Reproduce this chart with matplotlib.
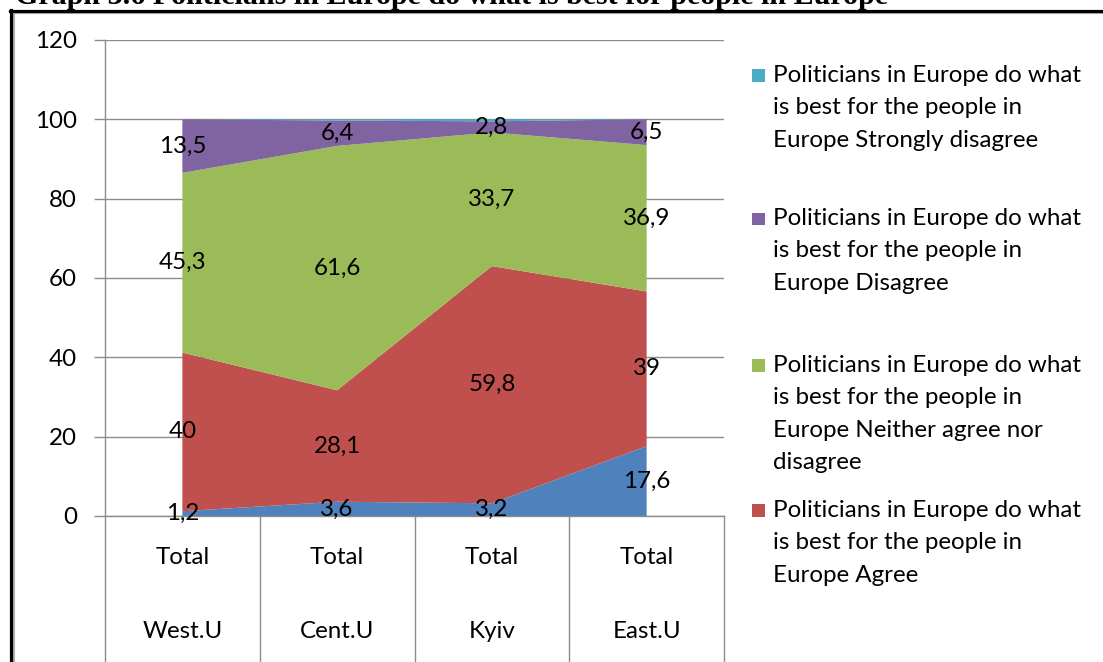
import matplotlib
matplotlib.use("Agg")
import matplotlib.pyplot as plt
from matplotlib.lines import Line2D
from matplotlib.patches import Rectangle
import numpy as np

# ---------------- data ----------------
regions = ["West.U", "Cent.U", "Kyiv", "East.U"]
level1 = ["Total", "Total", "Total", "Total"]
strongly_agree = [1.2, 3.6, 3.2, 17.6]
agree = [40, 28.1, 59.8, 39]
neither = [45.3, 61.6, 33.7, 36.9]
disagree = [13.5, 6.4, 2.8, 6.5]
strongly_disagree = [0.0, 0.3, 0.5, 0.0]
yticks = [0, 20, 40, 60, 80, 100, 120]
title = "Graph 3.6 Politicians in Europe do what is best for people in Europe"
legend_labels = [
    "Politicians in Europe do what\nis best for the people in\nEurope Strongly disagree",
    "Politicians in Europe do what\nis best for the people in\nEurope Disagree",
    "Politicians in Europe do what\nis best for the people in\nEurope Neither agree nor\ndisagree",
    "Politicians in Europe do what\nis best for the people in\nEurope Agree",
]

# ---------------- style ----------------
C_BLUE = "#4F81BD"
C_RED = "#C0504D"
C_GREEN = "#9BBB59"
C_PURPLE = "#8064A2"
C_CYAN = "#4BACC6"
GRID = "#8c8c8c"
FONT = "Lato"
FS = 17.4

W, H = 1103, 662
fig = plt.figure(figsize=(W / 100, H / 100), dpi=100)
fig.patch.set_facecolor("white")

def fx(px):
    return px / W

def fy(py):
    return 1 - py / H

ax_l, ax_r, ax_t, ax_b = 105, 724, 40, 516
ax = fig.add_axes([fx(ax_l), fy(ax_b), fx(ax_r - ax_l), (ax_b - ax_t) / H])

x = np.arange(len(regions))
series = [strongly_agree, agree, neither, disagree, strongly_disagree]
colors = [C_BLUE, C_RED, C_GREEN, C_PURPLE, C_CYAN]
ax.stackplot(x, *series, colors=colors, linewidth=0, zorder=2)

ax.set_xlim(-0.5, len(regions) - 0.5)
ax.set_ylim(0, 120)
ax.set_yticks(yticks)
ax.set_yticklabels([str(v) for v in yticks], fontfamily=FONT, fontsize=FS)
ax.yaxis.grid(True, color=GRID, linewidth=1.0, zorder=0)
ax.set_axisbelow(True)
ax.tick_params(axis="y", length=8, width=1.0, color=GRID, pad=12)
ax.set_xticks([])
for s in ["top", "right"]:
    ax.spines[s].set_visible(False)
ax.spines["left"].set_color(GRID)
ax.spines["left"].set_linewidth(1.0)
ax.spines["bottom"].set_color(GRID)
ax.spines["bottom"].set_linewidth(1.0)

# data labels (centred in each band)
cum = np.zeros(len(regions))
for vals in series[:4]:
    vals = np.array(vals, dtype=float)
    mids = cum + vals / 2
    for xi, v, m in zip(x, vals, mids):
        ax.text(xi, m, f"{v:g}".replace(".", ","), ha="center", va="center",
                fontfamily=FONT, fontsize=FS, color="black", zorder=5)
    cum += vals

# category table below the axis
axes_h = ax_b - ax_t
y_bottom = -(H - ax_b) / axes_h
tr = ax.get_xaxis_transform()
for b in np.arange(-0.5, len(regions), 1.0):
    ax.plot([b, b], [0, y_bottom], transform=tr, color=GRID, linewidth=1.0,
            clip_on=False, zorder=1)
for xi, l1, rg in zip(x, level1, regions):
    ax.text(xi, -(557 - ax_b) / axes_h, l1, transform=tr, ha="center", va="center",
            fontfamily=FONT, fontsize=FS)
    ax.text(xi, -(632 - ax_b) / axes_h, rg, transform=tr, ha="center", va="center",
            fontfamily=FONT, fontsize=FS)

# legend (manual, Excel-like: marker at first line)
leg_colors = [C_CYAN, C_PURPLE, C_GREEN, C_RED]
leg_baselines = [81.7, 225, 371.7, 516.7]
line_step = 32.5
for lab, col, b0 in zip(legend_labels, leg_colors, leg_baselines):
    for k, line in enumerate(lab.split("\n")):
        fig.text(fx(773), fy(b0 + k * line_step), line, ha="left", va="baseline",
                 fontfamily=FONT, fontsize=FS)
    fig.patches.append(Rectangle((fx(752), fy(b0)), fx(12.5), 12.5 / H,
                                 transform=fig.transFigure, facecolor=col,
                                 edgecolor="none"))

# frame of the page / clipped title (cut off at the top, as in the source)
fig.text(fx(15), fy(3.5), title, ha="left", va="baseline",
         fontfamily="Liberation Serif", fontweight="bold", fontsize=21.6)
fig.add_artist(Line2D([fx(14), 1], [fy(13), fy(13)], transform=fig.transFigure,
                      color="#b0b0b0", linewidth=1.5))
fig.add_artist(Line2D([fx(13.5), fx(13.5)], [fy(13), 0], transform=fig.transFigure,
                      color="#b0b0b0", linewidth=1.5))
fig.add_artist(Line2D([fx(9.5), 1], [fy(10.5), fy(10.5)], transform=fig.transFigure,
                      color="black", linewidth=2.3))
fig.add_artist(Line2D([fx(11), fx(11)], [fy(9.5), 0], transform=fig.transFigure,
                      color="black", linewidth=2.3))

fig.savefig("out.png", dpi=100, facecolor="white")
